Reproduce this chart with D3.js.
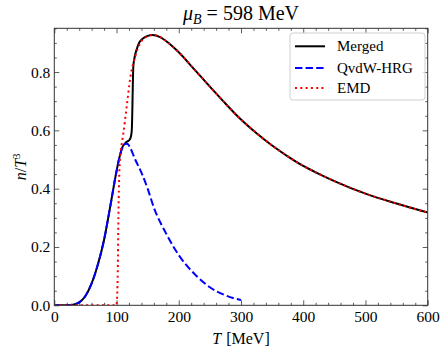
<!DOCTYPE html>
<html>
<head>
<meta charset="utf-8">
<script src="https://cdn.jsdelivr.net/npm/d3@7"></script>
<style>
body { margin: 0; background: #fff; }
text { font-family: "Liberation Serif", "DejaVu Serif", serif; fill: #000; }
</style>
</head>
<body>
<svg id="chart" width="448" height="354"></svg>
<script>
// values, n/T^3 against T in MeV
var mergedT = [0, 20, 30, 40, 50, 60, 70, 80, 90, 100, 105, 110, 115, 118, 121, 123, 124.5, 125.5, 126.2, 127, 129, 132.4, 137, 143, 150, 158, 170, 185, 200, 225, 250, 275, 300, 325, 350, 375, 400, 425, 450, 500, 550, 600];
var mergedN = [0, 0, 0.002, 0.01, 0.032, 0.075, 0.14, 0.225, 0.34, 0.46, 0.51, 0.545, 0.558, 0.563, 0.568, 0.578, 0.6, 0.68, 0.76, 0.82, 0.85, 0.878, 0.903, 0.916, 0.924, 0.927, 0.92, 0.897, 0.868, 0.809, 0.75, 0.692, 0.637, 0.59, 0.548, 0.511, 0.478, 0.451, 0.426, 0.383, 0.349, 0.318];

var qvdwT = [0, 20, 30, 40, 50, 60, 70, 80, 90, 100, 105, 110, 115, 118, 122, 130, 140, 150, 160, 180, 200, 225, 250, 275, 300];
var qvdwN = [0, 0, 0.002, 0.01, 0.032, 0.075, 0.14, 0.225, 0.34, 0.46, 0.51, 0.543, 0.554, 0.553, 0.54, 0.5, 0.455, 0.4, 0.335, 0.245, 0.172, 0.108, 0.062, 0.034, 0.018];

var emdT = [0, 50, 100, 101, 102, 103, 104, 105.5, 107, 109, 111, 116, 122, 130, 138, 148, 158, 170, 185, 200, 225, 250, 275, 300, 325, 350, 375, 400, 425, 450, 500, 550, 600];
var emdN = [0, 0, 0, 0.03, 0.12, 0.3, 0.42, 0.5, 0.535, 0.562, 0.59, 0.676, 0.779, 0.853, 0.899, 0.921, 0.927, 0.92, 0.897, 0.868, 0.809, 0.75, 0.692, 0.637, 0.59, 0.548, 0.511, 0.478, 0.451, 0.426, 0.383, 0.349, 0.318];

var seriesNames = ['Merged', 'QvdW-HRG', 'EMD'];
var xMajor = [0, 100, 200, 300, 400, 500, 600];
var yMajor = [0.0, 0.2, 0.4, 0.6, 0.8];

// plot frame edges (window.top is read-only, so avoid that name)
var pLeft = 54.3, pRight = 427.7, pTop = 28.3, pBottom = 305.3;

var svg = d3.select('#chart');

var x = d3.scaleLinear().domain([0, 600]).range([pLeft, pRight]);
var y = d3.scaleLinear().domain([0, 0.95]).range([pBottom, pTop]);

var xMinor = d3.range(0, 601, 20).filter(function(v) { return v % 100 !== 0; });
var yMinor = d3.range(0, 0.951, 0.05).filter(function(v) { return Math.round(v * 100) % 20 !== 0; });

svg.append('clipPath').attr('id', 'clip')
    .append('rect')
    .attr('x', pLeft).attr('y', pTop)
    .attr('width', pRight - pLeft).attr('height', pBottom - pTop);

// ticks point inward on all four sides
function tickAxis(axis, pos, vals, size, labels) {
    var a = axis.tickValues(vals).tickSize(-size);
    if(!labels) a.tickFormat('');
    var g = svg.append('g').attr('transform', pos).call(a);
    g.select('.domain').remove();
    g.selectAll('line').attr('stroke', '#333').attr('stroke-width', 0.8);
    return g;
}

tickAxis(d3.axisBottom(x).tickPadding(6), 'translate(0,' + pBottom + ')', xMajor, 5, true);
tickAxis(d3.axisBottom(x), 'translate(0,' + pBottom + ')', xMinor, 2.5, false);
tickAxis(d3.axisTop(x), 'translate(0,' + pTop + ')', xMajor, 5, false);
tickAxis(d3.axisTop(x), 'translate(0,' + pTop + ')', xMinor, 2.5, false);

tickAxis(d3.axisLeft(y).tickPadding(4).tickFormat(d3.format('.1f')), 'translate(' + pLeft + ',0)', yMajor, 5, true);
tickAxis(d3.axisLeft(y), 'translate(' + pLeft + ',0)', yMinor, 2.5, false);
tickAxis(d3.axisRight(y), 'translate(' + pRight + ',0)', yMajor, 5, false);
tickAxis(d3.axisRight(y), 'translate(' + pRight + ',0)', yMinor, 2.5, false);

svg.selectAll('.tick text')
    .attr('font-family', '"Liberation Serif", serif')
    .attr('font-size', '15.5px')
    .attr('fill', '#000');

function lineOf(ts, ns) {
    return d3.line()
        .x(function(d, i) { return x(ts[i]); })
        .y(function(d) { return y(d); })
        .curve(d3.curveMonotoneX)(ns);
}

var plot = svg.append('g').attr('clip-path', 'url(#clip)');

plot.append('path')
    .attr('d', lineOf(mergedT, mergedN))
    .attr('fill', 'none').attr('stroke', '#000').attr('stroke-width', 2);

plot.append('path')
    .attr('d', lineOf(qvdwT, qvdwN))
    .attr('fill', 'none').attr('stroke', '#0000ff').attr('stroke-width', 2)
    .attr('stroke-dasharray', '7.4,3.2');

plot.append('path')
    .attr('d', lineOf(emdT, emdN))
    .attr('fill', 'none').attr('stroke', '#ff0000').attr('stroke-width', 2)
    .attr('stroke-dasharray', '2,3.3');

svg.append('rect')
    .attr('x', pLeft).attr('y', pTop)
    .attr('width', pRight - pLeft).attr('height', pBottom - pTop)
    .attr('fill', 'none').attr('stroke', '#333').attr('stroke-width', 1);

// legend
var legend = svg.append('g').attr('transform', 'translate(290,33)');
legend.append('rect')
    .attr('width', 135).attr('height', 67).attr('rx', 3)
    .attr('fill', 'rgba(255,255,255,0.8)').attr('stroke', '#d0d0d0').attr('stroke-width', 1);

var styles = [
    {stroke: '#000', dash: null},
    {stroke: '#0000ff', dash: '7.4,3.2'},
    {stroke: '#ff0000', dash: '2,3.3'}
];
var rowY = [13.3, 35, 55];

seriesNames.forEach(function(name, i) {
    legend.append('line')
        .attr('x1', 5).attr('x2', 35)
        .attr('y1', rowY[i]).attr('y2', rowY[i])
        .attr('stroke', styles[i].stroke).attr('stroke-width', 2)
        .attr('stroke-dasharray', styles[i].dash);
    legend.append('text')
        .attr('x', 47).attr('y', rowY[i] + 5)
        .attr('font-size', '15px')
        .text(name);
});

// title and axis labels
var title = svg.append('text')
    .attr('x', (pLeft + pRight) / 2).attr('y', 20)
    .attr('text-anchor', 'middle')
    .attr('font-size', '20px');
title.append('tspan').attr('font-style', 'italic').text('μ');
title.append('tspan').attr('font-style', 'italic').attr('font-size', '14px').attr('dy', 4).text('B');
title.append('tspan').attr('dy', -4).text(' = 598 MeV');

var xl = svg.append('text')
    .attr('x', (pLeft + pRight) / 2).attr('y', 344)
    .attr('text-anchor', 'middle')
    .attr('font-size', '16px')
    .attr('xml:space', 'preserve');
xl.append('tspan').attr('font-style', 'italic').text('T');
xl.append('tspan').attr('dx', 5).text('[MeV]');

var yl = svg.append('text')
    .attr('transform', 'translate(26,' + (pTop + pBottom) / 2 + ') rotate(-90)')
    .attr('text-anchor', 'middle')
    .attr('font-size', '16px');
yl.append('tspan').attr('font-style', 'italic').text('n');
yl.append('tspan').text('/');
yl.append('tspan').attr('font-style', 'italic').text('T');
yl.append('tspan').attr('font-size', '11px').attr('dy', -6).text('3');
</script>
</body>
</html>
